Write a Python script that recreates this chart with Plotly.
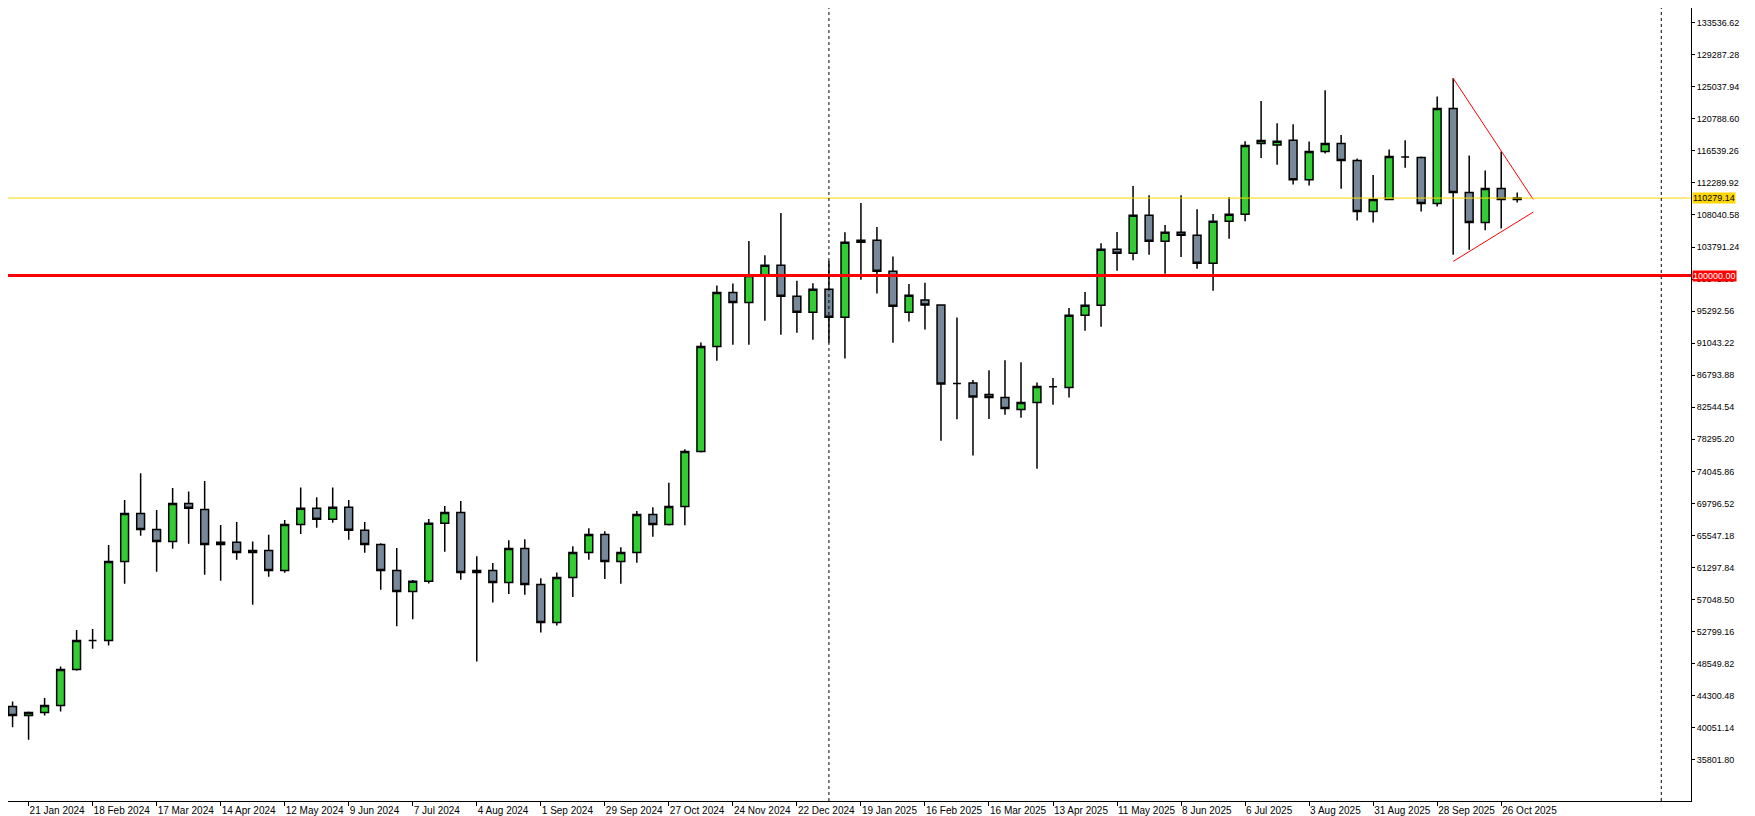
import pandas as pd
import plotly.graph_objects as go

# weekly candles, week starting Sunday
weeks = pd.date_range("2024-01-07", periods=96, freq="7D")
opens = [44100, 42880, 41680, 42080, 43010, 47780, 51630, 51630, 62100, 68470,
         66350, 64760, 69800, 69000, 64360, 64630, 63300, 63560, 60910, 67010,
         69140, 67680, 69280, 66230, 64360, 60910, 58130, 59460, 67150, 68600,
         60640, 60900, 59300, 63810, 59040, 54000, 59970, 63280, 65670, 62090,
         63280, 68320, 67000, 69390, 76680, 90600, 97770, 96450, 100000, 101360,
         97250, 95130, 98180, 94470, 104420, 104690, 100570, 95130, 96760, 96100,
         85710, 85750, 84240, 83850, 82260, 83190, 85270, 85180, 94730, 96060,
         103480, 102950, 107990, 104540, 105740, 105340, 101630, 107200, 108130, 117500,
         117300, 117930, 112700, 116460, 117520, 115270, 108500, 110100, 115720, 115670,
         109570, 122170, 111030, 107050, 111560, 110100]
highs = [44500, 43540, 42200, 43990, 48180, 53000, 53130, 64270, 70240, 73810,
         68920, 71830, 71390, 72760, 66930, 67330, 64760, 65640, 67590, 71920,
         70600, 71920, 70240, 67330, 64500, 63880, 59630, 67720, 69440, 70100,
         62800, 61900, 64910, 65050, 59880, 60640, 64120, 66510, 66110, 63990,
         68780, 69300, 72520, 76980, 91130, 98700, 98960, 104590, 102700, 108290,
         99330, 99000, 101980, 105750, 109620, 106450, 102520, 98900, 99050, 96200,
         94430, 86150, 87460, 88780, 88510, 85840, 86420, 95700, 97830, 104280,
         105780, 111880, 110660, 106710, 110660, 108800, 108180, 110400, 117800, 123140,
         120200, 120060, 117790, 124590, 118630, 115540, 113330, 116730, 117930, 115800,
         123760, 126160, 115930, 113950, 116460, 111030]
lows = [42500, 40130, 38450, 41660, 42220, 47600, 50520, 50970, 59140, 65500,
        60740, 63790, 64450, 60340, 59540, 62340, 56360, 60070, 60600, 65730,
        66570, 67240, 64990, 63260, 58340, 53510, 54440, 59180, 63390, 59670,
        48840, 56670, 57800, 57670, 52680, 53610, 57400, 62310, 59790, 59130,
        61920, 65360, 66870, 66910, 76550, 88700, 90830, 90830, 94000, 92150,
        92420, 91500, 91100, 89000, 99450, 97620, 91100, 93900, 92870, 78100,
        80950, 76150, 81000, 81550, 81150, 74390, 82880, 83850, 92700, 93230,
        100640, 102020, 102770, 100260, 102480, 100920, 98000, 104890, 107200, 115600,
        114700, 112070, 111930, 116190, 111530, 107320, 107050, 110100, 114300, 108500,
        109170, 102770, 103430, 106000, 106260, 109700]
closes = [42880, 41680, 42080, 43010, 47780, 51630, 51630, 62100, 68470, 66350,
          64760, 69800, 69140, 64360, 64630, 63300, 63560, 60910, 67010, 69140,
          67680, 69280, 66230, 64360, 60910, 58130, 59460, 67150, 68600, 60640,
          60900, 59300, 63810, 59040, 54000, 59970, 63280, 65670, 62090, 63280,
          68320, 67000, 69390, 76680, 90600, 97770, 96450, 100000, 101360, 97250,
          95130, 98180, 94470, 104420, 104690, 100570, 95930, 97380, 96100, 85620,
          85710, 83900, 83850, 82390, 83190, 85310, 85270, 94730, 96060, 103480,
          102950, 107990, 104540, 105740, 105340, 101630, 107200, 108130, 117240, 117900,
          117800, 112700, 116460, 117520, 115270, 108500, 110100, 115800, 115720, 109570,
          122170, 111030, 107050, 111560, 110100, 110279.14]

support_level = 100000.00
last_price = 110279.14
tick_start, tick_step = 35801.80, 4249.34
tick_vals = [tick_start + k * tick_step for k in range(24)]

label_dates = pd.date_range("2023-12-24", periods=25, freq="28D")
tri_dates = ["2025-10-05", "2025-11-09"]
tri_upper = [126160, 110100]
tri_lower = [101880, 108420]
sep_dates = ["2025-01-05", "2026-01-04"]

fig = go.Figure()
fig.add_trace(go.Candlestick(
    x=weeks, open=opens, high=highs, low=lows, close=closes,
    increasing=dict(fillcolor="#32CD32", line=dict(color="black", width=1.5)),
    decreasing=dict(fillcolor="#778899", line=dict(color="black", width=1.5)),
    whiskerwidth=0, showlegend=False,
))
for ys in (tri_upper, tri_lower):
    fig.add_trace(go.Scatter(x=tri_dates, y=ys, mode="lines",
                             line=dict(color="red", width=1), showlegend=False))

fig.add_hline(y=last_price, line=dict(color="#FFD700", width=1))
fig.add_hline(y=support_level, line=dict(color="#FF0000", width=3))
for d in sep_dates:
    fig.add_vline(x=d, line=dict(color="black", width=1, dash="dot"))

for val, bg, fg in [(last_price, "#FFD700", "black"), (support_level, "#FF0000", "white")]:
    fig.add_annotation(x=1, xref="paper", xanchor="left", y=val, yref="y",
                       text=f"{val:.2f}", showarrow=False, bgcolor=bg,
                       font=dict(color=fg, size=9, family="Liberation Sans"),
                       borderpad=0, xshift=1)

fig.update_layout(
    width=1755, height=816, plot_bgcolor="white", paper_bgcolor="white",
    margin=dict(l=0, r=72, t=0, b=23),
    font=dict(family="Liberation Sans", size=10, color="black"),
    xaxis=dict(
        range=["2024-01-12", "2026-01-17"], rangeslider=dict(visible=False),
        tickvals=label_dates, ticktext=[d.strftime("%-d %b %Y") for d in label_dates],
        ticks="outside", ticklen=4, tickcolor="black", tickangle=0,
        ticklabelposition="outside right",
        showgrid=False, showline=True, linecolor="black", zeroline=False,
    ),
    yaxis=dict(
        side="right", range=[30340, 135480], tickvals=tick_vals,
        ticktext=[f"{v:.2f}" for v in tick_vals], ticks="outside", ticklen=3,
        tickcolor="black", showgrid=False, showline=True, linecolor="black",
        zeroline=False, tickfont=dict(size=9),
    ),
)

fig.write_html("out.html")
